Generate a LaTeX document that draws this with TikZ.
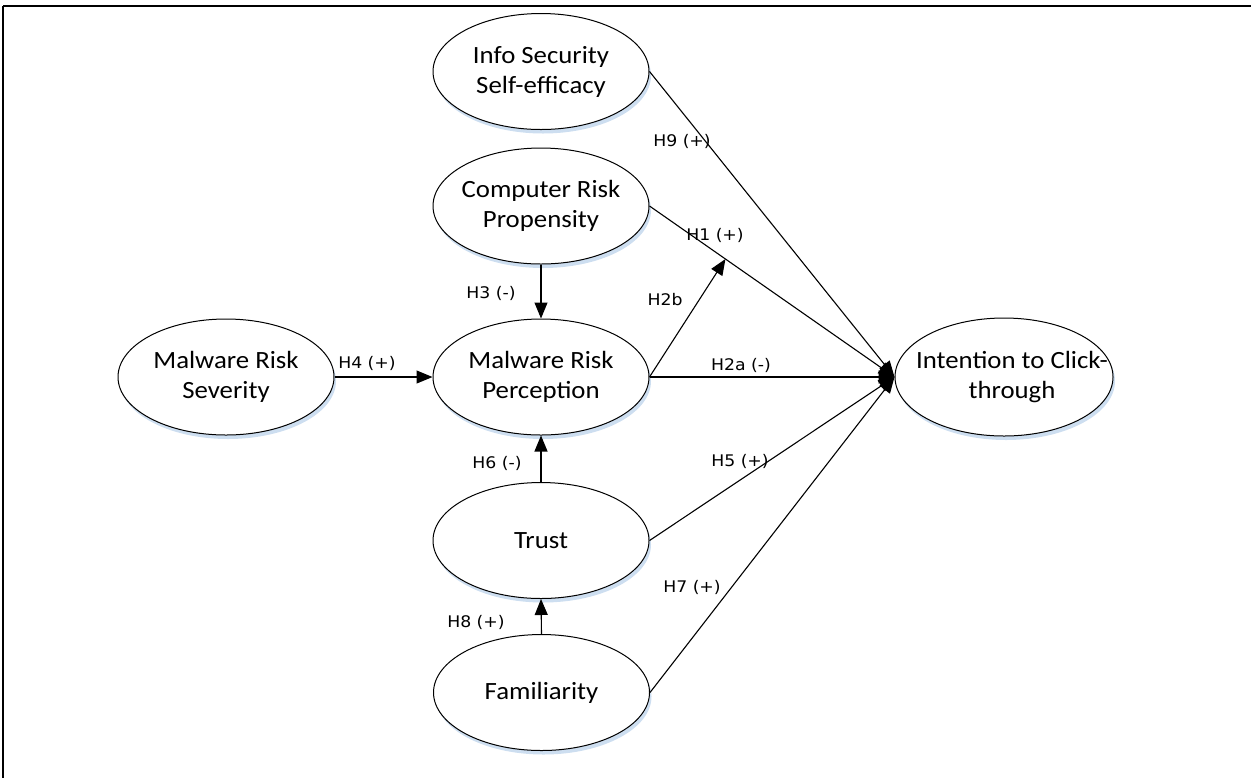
\documentclass[tikz,border=0pt]{standalone}
\usepackage{fontspec}
\usetikzlibrary{arrows.meta,shapes.geometric,shadows,calc}
\newfontfamily\boxfont[FakeStretch=1.08]{Carlito}
\newfontfamily\labfont[FakeStretch=1.08]{DejaVu Sans}
\definecolor{shadowblue}{RGB}{205,222,240}
\begin{document}
\begin{tikzpicture}[x=0.5pt,y=-0.5pt,
  blob/.style={ellipse,draw=black,line width=0.5pt,fill=white,inner sep=0pt,
    minimum width=108pt,minimum height=58pt,
    drop shadow={shadow xshift=1pt,shadow yshift=-2pt,fill=shadowblue,opacity=1}},
  blobtext/.style={align=center,inner sep=0pt,font=\boxfont\fontsize{12.4}{15}\selectfont},
  hyp/.style={inner sep=0pt,font=\labfont\fontsize{8}{9}\selectfont},
  link/.style={draw=black,line width=0.55pt,-{Triangle[length=8pt,width=6.5pt]}}]
\useasboundingbox (0,0) rectangle (1251,778);

% frame edges
\draw[line width=1.4pt] (3,6) -- (1251,6);
\draw[line width=0.6pt] (3,6) -- (3,778);

% constructs
\node[blob] (ise) at (541,71.5) {};
\node[blob] (crp) at (541,206) {};
\node[blob] (mrp) at (541,377) {};
\node[blob] (mrs) at (226,377) {};
\node[blob] (tru) at (541,540.5) {};
\node[blob] (fam) at (541.5,692.5) {};
\node[blob,minimum width=109pt,minimum height=59pt] (int) at (1004,377) {};

\node[blobtext] (ise-t) at (ise) {Info Security\\Self-efficacy};
\node[blobtext] (crp-t) at (crp) {Computer Risk\\Propensity};
\node[blobtext] (mrp-t) at (mrp) {Malware Risk\\Perception};
\node[blobtext] (mrs-t) at (mrs) {Malware Risk\\Severity};
\node[blobtext] (tru-t) at (tru) {Trust};
\node[blobtext] (fam-t) at (fam) {Familiarity};
\node[blobtext] (int-t) at (1012,377) {Intention to Click-\\through};

% moderation target on the H1 path
\coordinate (mod) at ($(crp.east)!0.31!(int.west)$);

% paths
\draw[link] (ise.east) -- (int.west);
\draw[link] (crp.east) -- (int.west);
\draw[link] (mrp.east) -- (int.west);
\draw[link] (tru.east) -- (int.west);
\draw[link] (fam.east) -- (int.west);
\draw[link] (mrp.east) -- (mod);
\draw[link] (crp.south) -- (mrp.north);
\draw[link] (mrs.east) -- (mrp.west);
\draw[link] (tru.north) -- (mrp.south);
\draw[link] (fam.north) -- (tru.south);

% hypothesis labels
\node[hyp] (h9) at (682,141) {H9 (+)};
\node[hyp] (h1) at (715,235) {H1 (+)};
\node[hyp] (h2b) at (665,300) {H2b};
\node[hyp] (h2a) at (741,365) {H2a (-)};
\node[hyp] (h3) at (491,293) {H3 (-)};
\node[hyp] (h4) at (367,363) {H4 (+)};
\node[hyp] (h6) at (497,463) {H6 (-)};
\node[hyp] (h5) at (740,461) {H5 (+)};
\node[hyp] (h7) at (692,587) {H7 (+)};
\node[hyp] (h8) at (476,622) {H8 (+)};
\end{tikzpicture}
\end{document}
